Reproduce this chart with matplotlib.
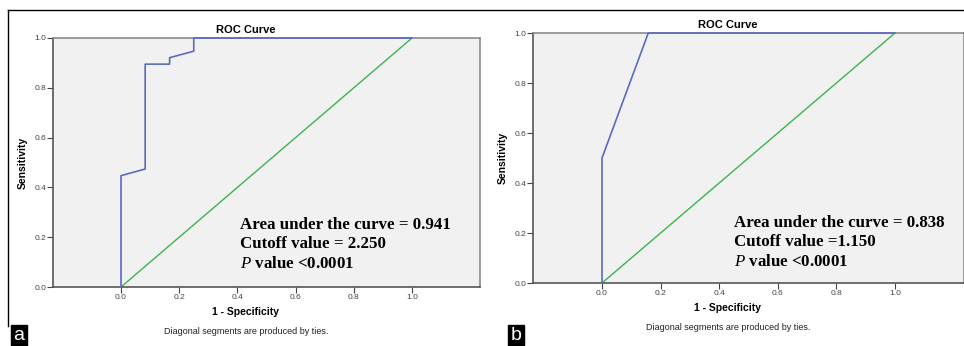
import matplotlib
matplotlib.use("Agg")
import matplotlib.pyplot as plt
from matplotlib.lines import Line2D

# ROC points (1 - specificity, sensitivity)
fpr_a = [0.0, 0.0, 0.083, 0.083, 0.167, 0.167, 0.25, 0.25, 1.0]
tpr_a = [0.0, 0.447, 0.474, 0.895, 0.895, 0.921, 0.947, 1.0, 1.0]
fpr_b = [0.0, 0.0, 0.158, 1.0]
tpr_b = [0.0, 0.5, 1.0, 1.0]
ref_line = [0.0, 1.0]

ticks = [0.0, 0.2, 0.4, 0.6, 0.8, 1.0]
tick_labels = ["0.0", "0.2", "0.4", "0.6", "0.8", "1.0"]

notes_a = ["Area under the curve = 0.941", "Cutoff value = 2.250", "value <0.0001"]
notes_b = ["Area under the curve = 0.838", "Cutoff value =1.150", "value <0.0001"]

plt.rcParams["font.family"] = ["Liberation Sans", "DejaVu Sans"]
plt.rcParams["mathtext.fontset"] = "custom"
plt.rcParams["mathtext.it"] = "Liberation Serif:italic"

W, H = 964, 346
fig = plt.figure(figsize=(W / 100, H / 100), dpi=100)
fig.patch.set_facecolor("white")


def px_box(left, right, top, bottom):
    return [left / W, (H - bottom) / H, (right - left) / W, (bottom - top) / H]


def draw_panel(rect, xlim, fpr, tpr, notes, title_xy, xlabel_y, foot_y, note_x, note_y0, letter, letter_x):
    ax = fig.add_axes(rect)
    ax.set_facecolor("#f1f1f1")
    ax.plot(ref_line, ref_line, color="#3cb44b", lw=1.0, zorder=2)
    ax.plot(fpr, tpr, color="#5a6cc0", lw=1.2, zorder=3, clip_on=False)
    ax.set_xlim(*xlim)
    ax.set_ylim(0, 1)
    ax.set_xticks(ticks)
    ax.set_xticklabels(tick_labels)
    ax.set_yticks(ticks)
    ax.set_yticklabels(tick_labels)
    ax.tick_params(labelsize=6, colors="#444444", length=4, width=0.8, pad=1)
    for s in ["top", "right"]:
        ax.spines[s].set_color("#8a8a8a")
        ax.spines[s].set_linewidth(1.2)
    for s in ["left", "bottom"]:
        ax.spines[s].set_color("#555555")
        ax.spines[s].set_linewidth(1.2)
    ax.set_ylabel("Sensitivity", fontsize=7.5, fontweight="bold", labelpad=5)

    fig.text(title_xy[0] / W, 1 - title_xy[1] / H, "ROC Curve", fontsize=8,
             fontweight="bold", ha="center", va="center")
    fig.text(title_xy[0] / W, 1 - xlabel_y / H, "1 - Specificity", fontsize=7.5,
             fontweight="bold", ha="center", va="center")
    fig.text(title_xy[0] / W, 1 - foot_y / H, "Diagonal segments are produced by ties.",
             fontsize=6.5, ha="center", va="center", color="#222222")

    for i, line in enumerate(notes):
        txt = line if i < 2 else r"$P$ " + line
        fig.text(note_x / W, 1 - (note_y0 + 19.3 * i) / H, txt, fontsize=12.2,
                 fontweight="bold", family="Liberation Serif", ha="left", va="center")

    fig.text((letter_x + 11) / W, 1 - 336 / H, letter, fontsize=14, color="white",
             ha="center", va="center",
             bbox=dict(boxstyle="square,pad=0.12", fc="black", ec="black"))
    return ax


draw_panel(px_box(53, 480, 38, 287), (-0.2337, 1.2337), fpr_a, tpr_a, notes_a,
           (246, 30), 312, 332, 240, 225, "a", 8)
draw_panel(px_box(533, 964, 33, 283), (-0.2355, 1.2355), fpr_b, tpr_b, notes_b,
           (728, 25), 308, 328, 734, 223, "b", 505)

# outer frame lines
fig.add_artist(Line2D([8 / W, 1], [1 - 10 / H, 1 - 10 / H], color="black", lw=1.0))
fig.add_artist(Line2D([8 / W, 8 / W], [1 - 10 / H, 1 - 326 / H], color="black", lw=1.0))

fig.savefig("out.png", dpi=100)
